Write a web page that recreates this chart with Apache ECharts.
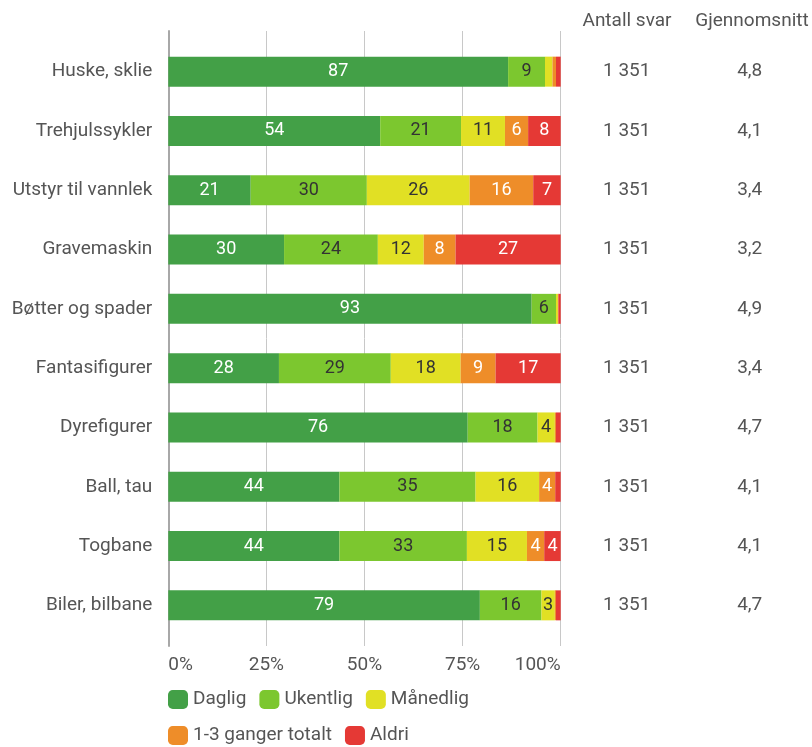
<!DOCTYPE html>
<html lang="no" style="height: 100%">
<head>
  <meta charset="utf-8">
</head>
<body style="height: 100%; margin: 0">
  <div id="container" style="width: 812px; height: 747px"></div>

  <script src="https://fastly.jsdelivr.net/npm/echarts@6.0.0/dist/echarts.min.js" type="text/javascript"></script>

  <script>
    // data (prosent per kategori)
    var categories = ['Huske, sklie', 'Trehjulssykler', 'Utstyr til vannlek', 'Gravemaskin', 'Bøtter og spader',
      'Fantasifigurer', 'Dyrefigurer', 'Ball, tau', 'Togbane', 'Biler, bilbane'];
    var daglig    = [86.6, 54.0, 21.0, 29.5, 92.6, 28.2, 76.3, 43.6, 43.6, 79.4];
    var ukentlig  = [9.4, 20.6, 29.6, 23.9, 6.2, 28.5, 17.8, 34.7, 32.5, 15.7];
    var maanedlig = [1.9, 11.2, 26.2, 11.7, 0.5, 17.8, 4.4, 16.2, 15.3, 3.4];
    var ganger    = [0.9, 5.9, 16.2, 8.1, 0.1, 8.9, 0.3, 4.1, 4.4, 0.3];
    var aldri     = [1.2, 8.3, 7.0, 26.8, 0.6, 16.6, 1.2, 1.4, 4.2, 1.2];
    var antallSvar = ['1 351', '1 351', '1 351', '1 351', '1 351', '1 351', '1 351', '1 351', '1 351', '1 351'];
    var snitt = ['4,8', '4,1', '3,4', '3,2', '4,9', '3,4', '4,7', '4,1', '4,1', '4,7'];
    var xTicks = [0, 25, 50, 75, 100];
    var headers = ['Antall svar', 'Gjennomsnitt'];

    var dom = document.getElementById('container');
    var myChart = echarts.init(dom, null, { renderer: 'canvas' });

    var font = 'Roboto';
    var textGray = '#555';
    var fs = 19;
    var colors = ['#43a047', '#7cc72f', '#e1e024', '#ee8d29', '#e53935'];

    function bar(name, data, labelColor) {
      return {
        name: name,
        type: 'bar',
        stack: 'total',
        barWidth: 30,
        xAxisIndex: 0,
        yAxisIndex: 0,
        data: data,
        label: {
          show: true,
          position: 'inside',
          color: labelColor,
          fontSize: 18,
          fontFamily: font,
          formatter: function (p) {
            return p.value < 2.5 ? '' : Math.round(p.value);
          }
        }
      };
    }

    var option = {
      color: colors,
      animation: false,
      grid: [
        { left: 168.3, right: 251.3, top: 42, height: 593 },
        { left: 168.3, right: 251.3, top: 31, height: 615 }
      ],
      xAxis: [
        { type: 'value', gridIndex: 0, min: 0, max: 100, show: false },
        {
          type: 'value', gridIndex: 1, min: 0, max: 100, interval: 25,
          axisLine: { show: false },
          axisTick: { show: false },
          splitLine: { show: true, lineStyle: { color: '#c8c8c8', width: 1 } },
          axisLabel: {
            margin: 10,
            fontSize: fs,
            fontFamily: font,
            color: textGray,
            alignMinLabel: 'left',
            alignMaxLabel: 'right',
            formatter: function (v) { return xTicks.indexOf(v) >= 0 ? v + '%' : ''; }
          }
        }
      ],
      yAxis: [
        {
          type: 'category', gridIndex: 0, inverse: true, data: categories,
          axisLine: { show: false },
          axisTick: { show: false },
          axisLabel: { margin: 16, fontSize: fs, fontFamily: font, color: textGray }
        },
        {
          type: 'category', gridIndex: 0, inverse: true, position: 'right', data: antallSvar,
          axisLine: { show: false },
          axisTick: { show: false },
          axisLabel: { margin: 66, align: 'center', fontSize: fs, fontFamily: font, color: textGray }
        },
        {
          type: 'category', gridIndex: 0, inverse: true, position: 'right', data: snitt,
          axisLine: { show: false },
          axisTick: { show: false },
          axisLabel: { margin: 189, align: 'center', fontSize: fs, fontFamily: font, color: textGray }
        },
        {
          type: 'value', gridIndex: 1, min: 0, max: 1,
          axisLine: { show: true, lineStyle: { color: '#a8a8a8', width: 2 } },
          axisTick: { show: false },
          axisLabel: { show: false },
          splitLine: { show: false }
        }
      ],
      legend: [
        {
          data: ['Daglig', 'Ukentlig', 'Månedlig'],
          left: 163, top: 685,
          icon: 'roundRect', itemWidth: 20, itemHeight: 19, itemGap: 13,
          textStyle: { fontSize: fs, fontFamily: font, color: textGray }
        },
        {
          data: ['1-3 ganger totalt', 'Aldri'],
          left: 163, top: 721,
          icon: 'roundRect', itemWidth: 20, itemHeight: 19, itemGap: 13,
          textStyle: { fontSize: fs, fontFamily: font, color: textGray }
        }
      ],
      graphic: [
        { type: 'text', x: 627, y: 21, style: { text: headers[0], align: 'center', verticalAlign: 'middle', fontSize: fs, fontFamily: font, fill: textGray } },
        { type: 'text', x: 752, y: 21, style: { text: headers[1], align: 'center', verticalAlign: 'middle', fontSize: fs, fontFamily: font, fill: textGray } }
      ],
      series: [
        bar('Daglig', daglig, '#fff'),
        bar('Ukentlig', ukentlig, '#333'),
        bar('Månedlig', maanedlig, '#333'),
        bar('1-3 ganger totalt', ganger, '#fff'),
        bar('Aldri', aldri, '#fff')
      ]
    };

    myChart.setOption(option);
    window.addEventListener('resize', myChart.resize);
  </script>
</body>
</html>
